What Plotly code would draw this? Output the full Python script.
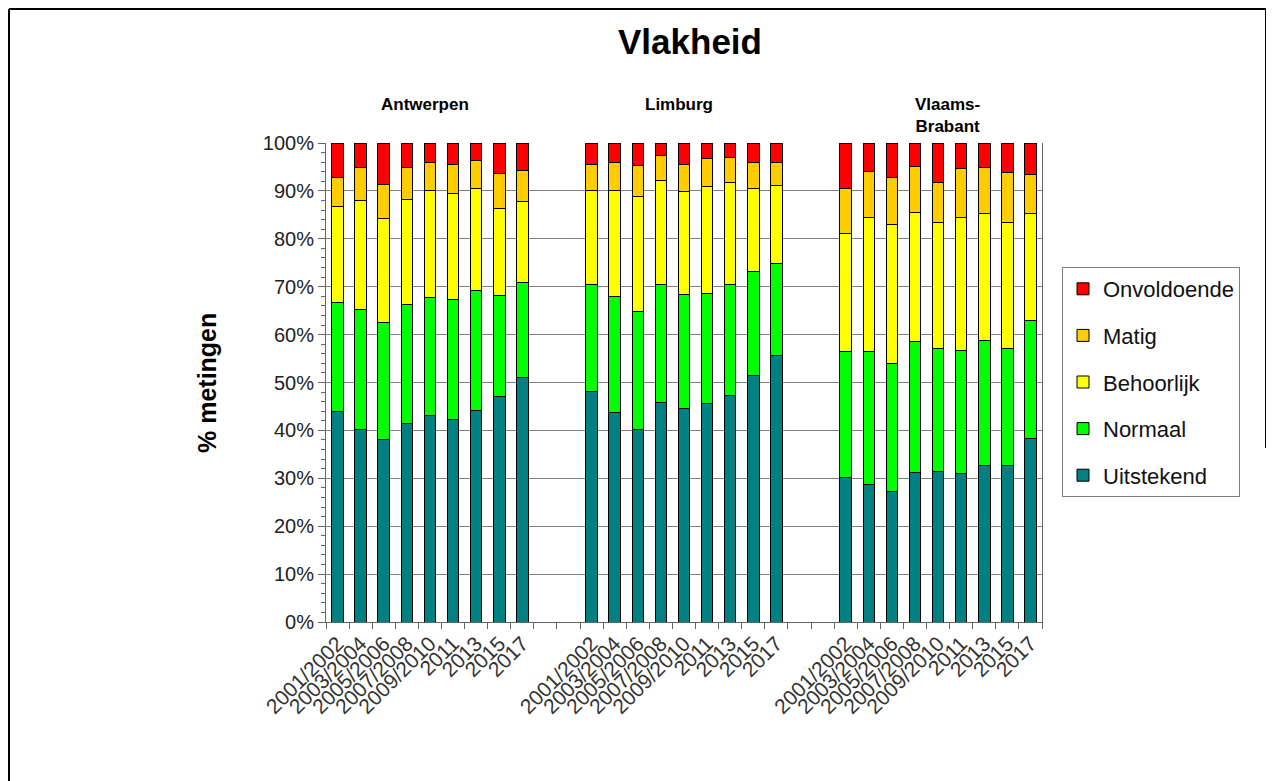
"""
Vlakheid - stacked bar chart per provincie (Plotly).
"""

import plotly.graph_objects as go

# --- data -------------------------------------------------------------------
periods = ["2001/2002", "2003/2004", "2005/2006", "2007/2008", "2009/2010",
           "2011", "2013", "2015", "2017"]
provinces = ["Antwerpen", "Limburg", "Vlaams-<br>Brabant"]

classes = ["Uitstekend", "Normaal", "Behoorlijk", "Matig", "Onvoldoende"]
colors = ["#008080", "#00FF00", "#FFFF00", "#FFCC00", "#FF0000"]

# % metingen per klasse, per periode (Antwerpen | Limburg | Vlaams-Brabant)
uitstekend = [43.9, 40.2, 38.1, 41.5, 43.1, 42.3, 44.2, 47.0, 51.0,
              48.1, 43.8, 40.1, 45.8, 44.6, 45.6, 47.3, 51.5, 55.7,
              30.1, 28.8, 27.2, 31.2, 31.4, 30.9, 32.7, 32.6, 38.3]
normaal = [22.9, 25.1, 24.4, 24.8, 24.7, 25.0, 25.0, 21.1, 19.8,
           22.3, 24.1, 24.8, 24.6, 23.7, 23.0, 23.1, 21.7, 19.1,
           26.3, 27.6, 26.8, 27.3, 25.7, 25.8, 26.1, 24.5, 24.7]
behoorlijk = [19.9, 22.7, 21.7, 22.0, 22.3, 22.2, 21.2, 18.2, 17.0,
              19.7, 22.2, 24.0, 21.8, 21.6, 22.4, 21.4, 17.4, 16.4,
              24.8, 28.1, 29.0, 26.9, 26.4, 27.8, 26.4, 26.4, 22.2]
matig = [6.2, 6.9, 7.1, 6.6, 5.9, 6.1, 5.9, 7.4, 6.4,
         5.5, 5.9, 6.5, 5.1, 5.7, 5.8, 5.2, 5.4, 4.8,
         9.2, 9.5, 9.8, 9.7, 8.3, 10.1, 9.6, 10.4, 8.3]
onvoldoende = [7.1, 5.1, 8.7, 5.1, 4.0, 4.4, 3.7, 6.3, 5.8,
               4.4, 4.0, 4.6, 2.7, 4.4, 3.2, 3.0, 4.0, 4.0,
               9.6, 6.0, 7.2, 4.9, 8.2, 5.4, 5.2, 6.1, 6.5]

series = [uitstekend, normaal, behoorlijk, matig, onvoldoende]

# --- positions: 9 bars per province, 2 empty slots between provinces ----------
GAP = 2
step = len(periods) + GAP
x_pos = [g * step + i for g in range(len(provinces)) for i in range(len(periods))]
x_labels = periods * len(provinces)
n_slots = len(provinces) * len(periods) + (len(provinces) - 1) * GAP

fig = go.Figure()

for k, (name, vals, col) in enumerate(zip(classes, series, colors)):
    fig.add_trace(go.Bar(
        x=x_pos,
        y=vals,
        name=name,
        legendgroup=name,
        legendrank=len(classes) - k,   # Onvoldoende on top of the legend
        marker=dict(color=col, line=dict(color="#000000", width=1)),
        width=0.5,
    ))

text_font = "Liberation Sans, Arial, sans-serif"

# plot area in figure pixels (page is offset by the 8px body margin)
L, T, W, H = 318, 135, 716, 479

fig.update_layout(
    width=1274,
    height=781,
    barmode="stack",
    plot_bgcolor="white",
    paper_bgcolor="white",
    margin=dict(l=L, r=1274 - L - W, t=T, b=781 - T - H),
    font=dict(family=text_font, color="#222222"),
    showlegend=True,
    legend=dict(
        x=(1054 - L) / W, y=(T + H - 259) / H, xanchor="left", yanchor="top",
        traceorder="grouped",
        tracegroupgap=15,
        font=dict(size=22, color="#111111"),
        bordercolor="#808080", borderwidth=1,
        itemwidth=30,
    ),
)

fig.update_xaxes(
    range=[-0.5, n_slots - 0.5],
    tickmode="array",
    tickvals=x_pos,
    ticktext=x_labels,
    tickangle=-45,
    ticks="",
    tickfont=dict(size=21, color="#333333"),
    showgrid=False,
    showline=True,
    linecolor="#666666",
    linewidth=1,
    zeroline=False,
    minor=dict(tickmode="linear", tick0=-0.5, dtick=1, ticks="outside",
               ticklen=6, tickcolor="#666666", showgrid=False),
)

fig.update_yaxes(
    range=[0, 100],
    dtick=10,
    ticksuffix="%",
    ticks="outside",
    ticklen=7,
    tickcolor="#666666",
    tickfont=dict(size=20, color="#222222"),
    showgrid=True,
    gridcolor="#808080",
    gridwidth=1,
    showline=True,
    linecolor="#666666",
    linewidth=1,
    mirror=True,
    zeroline=False,
    minor=dict(dtick=2, ticks="outside", ticklen=4, tickcolor="#666666",
               showgrid=False),
)

# title and axis title
fig.add_annotation(text="<b>Vlakheid</b>", xref="paper", yref="paper",
                   x=(682 - L) / W, y=(T + H - 34) / H,
                   xanchor="center", yanchor="middle",
                   showarrow=False, font=dict(size=35, color="#000000"))
fig.add_annotation(text="<b>% metingen</b>", xref="paper", yref="paper",
                   x=(199 - L) / W, y=(T + H - 383 + 8) / H,
                   xanchor="center", yanchor="middle", textangle=-90,
                   showarrow=False, font=dict(size=25, color="#000000"))

# province labels above each group
for g, prov in enumerate(provinces):
    center = g * step + (len(periods) - 1) / 2
    two_lines = "<br>" in prov
    fig.add_annotation(text="<b>" + prov + "</b>",
                       x=center + (0.4 if two_lines else -0.2),
                       xref="x", yref="paper",
                       y=(T + H - (107 if two_lines else 96)) / H,
                       showarrow=False, xanchor="center", yanchor="middle",
                       font=dict(size=17, color="#000000"))

# outer frame
frame = dict(type="line", xref="paper", yref="paper",
             line=dict(color="#000000", width=2))
x0, x1 = (1 - L) / W, (1258 - L) / W
y_top, y_bot = (T + H - 1) / H, (T + H - 781) / H
fig.add_shape(**frame, x0=x0, x1=x1, y0=y_top, y1=y_top)
fig.add_shape(**frame, x0=x0, x1=x0, y0=y_top, y1=y_bot)
fig.add_shape(**frame, x0=x1, x1=x1, y0=y_top, y1=(T + H - 440) / H)

fig.write_html("out.html")
